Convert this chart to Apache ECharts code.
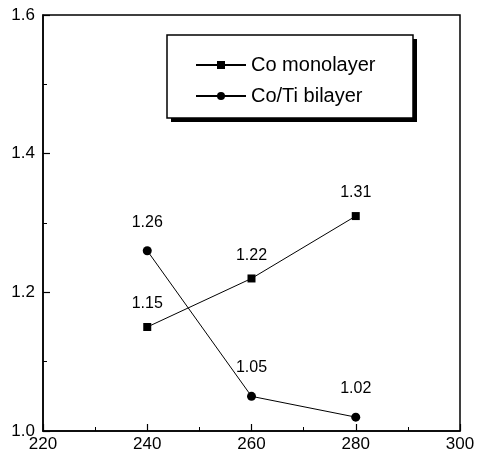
<!DOCTYPE html>
<html><head><meta charset="utf-8">
<script src="https://cdn.jsdelivr.net/npm/echarts@6/dist/echarts.min.js"></script>
<style>html,body{margin:0;padding:0;background:#fff}#c{width:484px;height:458px}</style>
</head><body><div id="c"></div>
<script>
const xValues = [240, 260, 280];
const coMonolayer = [1.15, 1.22, 1.31];
const coTiBilayer = [1.26, 1.05, 1.02];
const seriesNames = ['Co monolayer', 'Co/Ti bilayer'];

const chart = echarts.init(document.getElementById('c'));
const font = 'Liberation Sans, Arial, sans-serif';
function pairs(xs, ys){ return xs.map((x,i)=>[x, ys[i]]); }
const labelBase = {show:true, position:'top', color:'#000', fontSize:16, fontFamily:font,
  formatter: p => p.value[1].toFixed(2)};
chart.setOption({
  animation:false,
  grid:{left:43, right:24, top:15, bottom:27, show:true, borderColor:'#000', borderWidth:1.5},
  xAxis:{type:'value', min:220, max:300, interval:20,
    axisLine:{lineStyle:{color:'#000', width:1.5}},
    axisTick:{inside:true, length:7, lineStyle:{color:'#000', width:1.2}},
    minorTick:{show:true, splitNumber:2, length:4, lineStyle:{color:'#000', width:1}},
    splitLine:{show:false},
    axisLabel:{color:'#000', fontSize:17, fontFamily:font, margin:5}},
  yAxis:{type:'value', min:1.0, max:1.6, interval:0.2,
    axisLine:{lineStyle:{color:'#000', width:1.5}},
    axisTick:{inside:true, length:7, lineStyle:{color:'#000', width:1.2}},
    minorTick:{show:true, splitNumber:2, length:4, lineStyle:{color:'#000', width:1}},
    splitLine:{show:false},
    axisLabel:{color:'#000', fontSize:17, fontFamily:font, margin:8, formatter:v=>v.toFixed(1)}},
  legend:{orient:'vertical', left:190, top:50, itemWidth:50, itemHeight:10, itemGap:11,
    textStyle:{color:'#000', fontSize:20, fontFamily:font},
    data:seriesNames},
  graphic:[
    {type:'rect', shape:{x:171, y:39, width:246, height:83}, style:{fill:'#000'}, z:0},
    {type:'rect', shape:{x:167, y:35, width:246, height:83}, style:{fill:'#fff', stroke:'#000', lineWidth:1.5}, z:1}
  ],
  series:[
    {name:seriesNames[0], type:'line', data:pairs(xValues, coMonolayer), symbol:'rect', symbolSize:8,
      itemStyle:{color:'#000'}, lineStyle:{color:'#000', width:1},
      label:Object.assign({distance:11}, labelBase), z:5},
    {name:seriesNames[1], type:'line', data:pairs(xValues, coTiBilayer), symbol:'circle', symbolSize:9,
      itemStyle:{color:'#000'}, lineStyle:{color:'#000', width:1},
      label:Object.assign({distance:16}, labelBase), z:5}
  ]
});
</script></body></html>
